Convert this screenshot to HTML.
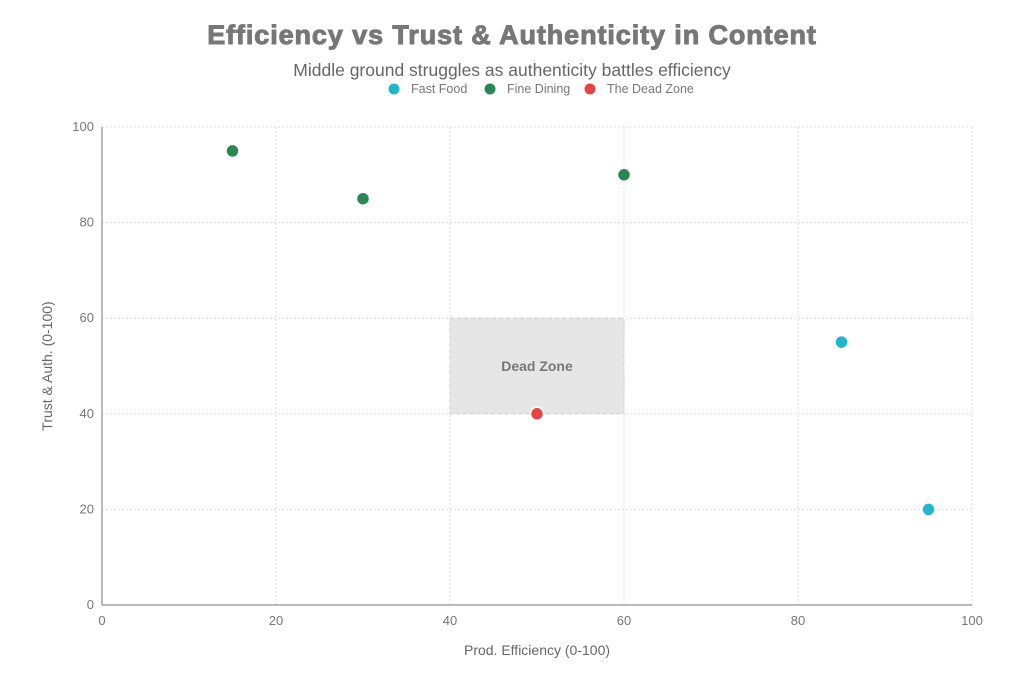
<!DOCTYPE html>
<html><head><meta charset="utf-8"><style>
body{margin:0;background:#fff;font-family:"Liberation Sans",sans-serif}
svg text{font-family:"Liberation Sans",sans-serif}
</style></head><body>
<svg id="c" width="1024" height="683">
<text x="512" y="44" text-anchor="middle" font-size="27" font-weight="bold" letter-spacing="0.9" fill="#777" stroke="#777" stroke-width="1">Efficiency vs Trust &amp; Authenticity in Content</text>
<text x="512" y="76" text-anchor="middle" font-size="17.5" fill="#666">Middle ground struggles as authenticity battles efficiency</text>
<g id="legend"></g>
<g id="grid"></g><g id="zone"></g><g id="axes"></g><g id="pts"></g>
<text x="537" y="655" text-anchor="middle" font-size="14" fill="#666">Prod. Efficiency (0-100)</text>
<text transform="translate(52,366) rotate(-90)" text-anchor="middle" font-size="14" fill="#666">Trust &amp; Auth. (0-100)</text>
</svg>
<script>
const seriesNames=["Fast Food","Fine Dining","The Dead Zone"];
const seriesColors=["#22b5cc","#2a8653","#e04646"];
const fastFoodX=[85,95], fastFoodY=[55,20];
const fineX=[15,30,60], fineY=[95,85,90];
const deadX=[50], deadY=[40];
const xTicks=[0,20,40,60,80,100], yTicks=[0,20,40,60,80,100];
const zoneX=[40,60], zoneY=[40,60];
const NS="http://www.w3.org/2000/svg";
const sx=v=>102+v*8.7, sy=v=>605-v*4.78;
function mk(t,a,p){const e=document.createElementNS(NS,t);for(const k in a)e.setAttribute(k,a[k]);p.appendChild(e);return e;}
const grid=document.getElementById('grid'),axes=document.getElementById('axes');
xTicks.forEach(v=>{
 if(v>0){const l=mk('line',{x1:sx(v),x2:sx(v),y1:127,y2:605,stroke:'#ddd','stroke-dasharray':'2,2'},grid);
 
 }
 const t=mk('text',{x:sx(v),y:625,'text-anchor':'middle','font-size':13,fill:'#777'},axes);t.textContent=v;
 
 
});
yTicks.forEach(v=>{
 if(v>0){const l=mk('line',{x1:102,x2:972,y1:sy(v),y2:sy(v),stroke:'#ddd','stroke-dasharray':'2,2'},grid);
 
 }
 const t=mk('text',{x:94,y:sy(v)+4,'text-anchor':'end','font-size':13,fill:'#777'},axes);t.textContent=v;
 
 
});
const ax=mk('line',{x1:102,x2:972,y1:605,y2:605,stroke:'#777'},axes);


const ay=mk('line',{x1:102,x2:102,y1:127,y2:605,stroke:'#777'},axes);


const zone=document.getElementById('zone');
const r=mk('rect',{x:sx(zoneX[0]),y:sy(zoneY[1]),width:sx(zoneX[1])-sx(zoneX[0]),height:sy(zoneY[0])-sy(zoneY[1]),fill:'#e6e6e6',stroke:'#ccc','stroke-dasharray':'4,3'},zone);


const zt=mk('text',{x:(sx(zoneX[0])+sx(zoneX[1]))/2,y:(sy(zoneY[0])+sy(zoneY[1]))/2+5,'text-anchor':'middle','font-size':14,'font-weight':'bold',fill:'#777'},zone);zt.textContent='Dead Zone';


const pts=document.getElementById('pts');
[[fastFoodX,fastFoodY],[fineX,fineY],[deadX,deadY]].forEach((s,i)=>{
 s[0].forEach((x,j)=>{const c=mk('circle',{cx:sx(x),cy:sy(s[1][j]),r:6.5,fill:seriesColors[i],stroke:'#fff','stroke-width':1.5},pts);
 
 });
});
const lg=document.getElementById('legend');const lx=[394,490,590];
seriesNames.forEach((n,i)=>{
 const c=mk('circle',{cx:lx[i],cy:89,r:6,fill:seriesColors[i],stroke:'#fff'},lg);
 
 
 const t=mk('text',{x:lx[i]+17,y:93,'font-size':12.5,fill:'#777'},lg);t.textContent=n;
 
 
});
</script>
</body></html>
